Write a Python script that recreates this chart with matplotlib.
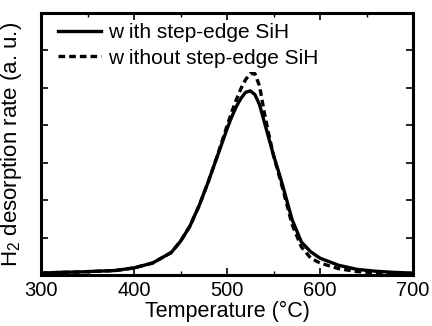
import matplotlib
matplotlib.use("Agg")
import matplotlib.pyplot as plt
import numpy as np

plt.rcParams['font.family'] = ['Liberation Sans', 'DejaVu Sans']
plt.rcParams['mathtext.fontset'] = 'custom'
plt.rcParams['mathtext.rm'] = 'Liberation Sans'

temp = [300, 320, 340, 360, 380, 400, 420, 440, 450, 460, 470, 480, 490, 500,
        505, 510, 515, 520, 525, 530, 535, 540, 545, 550, 555, 560, 570, 580,
        590, 600, 620, 640, 660, 680, 700]
with_step = [0.05, 0.07, 0.08, 0.10, 0.12, 0.19, 0.32, 0.60, 0.90, 1.30, 1.85,
             2.50, 3.20, 3.90, 4.22, 4.50, 4.72, 4.88, 4.92, 4.82, 4.55, 4.10,
             3.65, 3.20, 2.80, 2.38, 1.48, 0.88, 0.62, 0.45, 0.26, 0.15, 0.10,
             0.07, 0.05]
without_step = [0.05, 0.07, 0.08, 0.10, 0.12, 0.19, 0.32, 0.60, 0.90, 1.30, 1.85,
                2.50, 3.22, 3.98, 4.35, 4.68, 4.98, 5.22, 5.38, 5.38, 5.05, 4.35,
                3.75, 3.20, 2.75, 2.30, 1.35, 0.75, 0.45, 0.32, 0.17, 0.09, 0.06,
                0.05, 0.04]

fig = plt.figure(figsize=(4.32, 3.26), dpi=100)
ax = fig.add_axes([41/432, 51/326, 372/432, 262/326])

ax.plot(temp, with_step, color='black', lw=2.4, label='w ith step-edge SiH')
ax.plot(temp, without_step, color='black', lw=2.4, ls=(0, (2.0, 1.2)),
        label='w ithout step-edge SiH')

ax.set_xlim(300, 700)
ax.set_ylim(0, 7)
ax.set_xticks([300, 400, 500, 600, 700])
ax.set_xticks([350, 450, 550, 650], minor=True)
ax.set_yticks(range(0, 8))
ax.set_yticklabels([])
ax.tick_params(axis='both', which='major', direction='in', top=True, right=True,
               length=5, width=1.2, labelsize=14.5, pad=4)
ax.tick_params(axis='both', which='minor', direction='in', top=True, right=True,
               length=3, width=1.0)
for s in ax.spines.values():
    s.set_linewidth(2.2)

ax.set_xlabel('Temperature (°C)', fontsize=15.5, labelpad=1)
ax.set_ylabel('H$_2$ desorption rate (a. u.)', fontsize=16, labelpad=8)

ax.legend(loc='upper left', bbox_to_anchor=(0.045, 0.96), frameon=False,
          fontsize=15, handlelength=2.1, handletextpad=0.3, labelspacing=0.3,
          borderaxespad=0.0, borderpad=0.0)

fig.savefig('out.png', dpi=100)
